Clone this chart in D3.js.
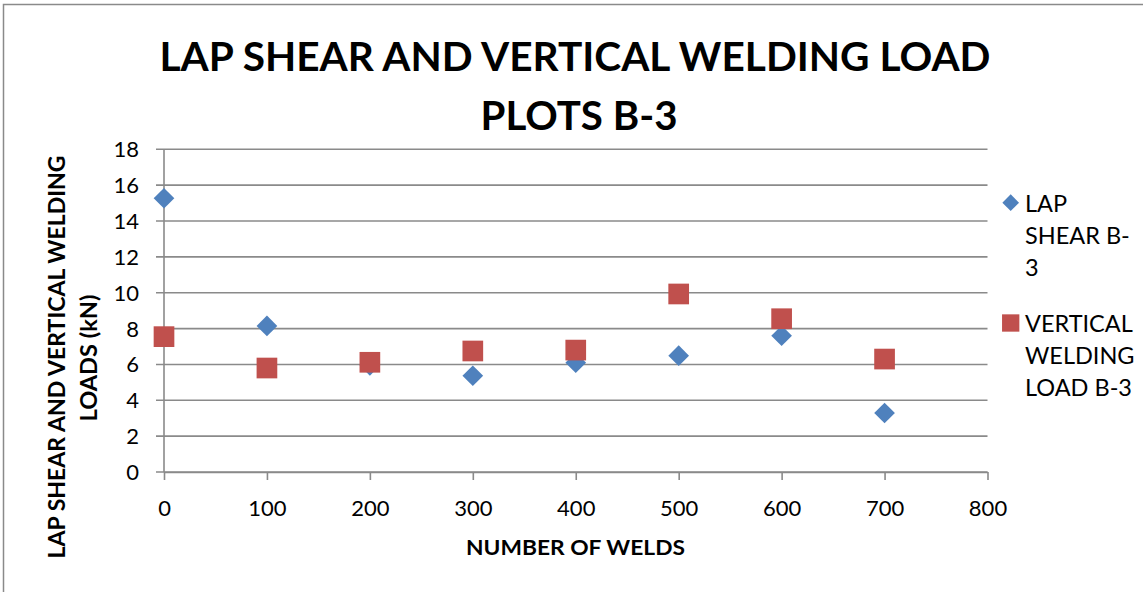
<!doctype html>
<html lang="en">
<head>
  <meta charset="utf-8">
  <script src="https://d3js.org/d3.v7.min.js"></script>
  <style>
    body { margin: 0; background: #fff; }
    text { font-family: Lato, "Open Sans", sans-serif; fill: #000; }
  </style>
</head>
<body>
  <div id="chart"></div>
  <script>
  // data
  var welds = [0, 100, 200, 300, 400, 500, 600, 700];
  var lapShear = [15.27, 8.15, 5.95, 5.37, 6.1, 6.49, 7.6, 3.29];
  var verticalLoad = [7.55, 5.8, 6.12, 6.75, 6.8, 9.93, 8.55, 6.3];
  var yTicks = [0, 2, 4, 6, 8, 10, 12, 14, 16, 18];
  var xTicks = [0, 100, 200, 300, 400, 500, 600, 700, 800];
  var seriesNames = [["LAP", "SHEAR B-", "3"], ["VERTICAL", "WELDING", "LOAD B-3"]];
  var titleLines = ["LAP SHEAR AND VERTICAL WELDING LOAD", "PLOTS B-3"];
  var yTitleLines = ["LAP SHEAR AND VERTICAL WELDING", "LOADS (kN)"];
  var xTitle = "NUMBER OF WELDS";

  var width = 1143, height = 592;
  var grey = "#8a8a8a";
  var blue = "#4f81bd", red = "#c0504d";

  var svg = d3.select("#chart")
      .append("svg")
      .attr("width", width)
      .attr("height", height);

  // outer chart border (only left and top are in frame)
  svg.append("rect")
     .attr("x", 3.5).attr("y", 4.5)
     .attr("width", width + 10).attr("height", height + 10)
     .attr("fill", "none")
     .attr("stroke", grey)
     .attr("stroke-width", 1.5);

  var x = d3.scaleLinear().domain([0, 800]).range([164, 987.5]);
  var y = d3.scaleLinear().domain([0, 18]).range([472, 149.3]);

  // gridlines + y ticks
  svg.append("g")
     .selectAll("line")
     .data(yTicks)
     .enter()
     .append("line")
     .attr("x1", 156).attr("x2", x(800))
     .attr("y1", function (d) { return y(d); })
     .attr("y2", function (d) { return y(d); })
     .attr("stroke", grey)
     .attr("stroke-width", 1.6);

  // y axis line
  svg.append("line")
     .attr("x1", x(0)).attr("x2", x(0))
     .attr("y1", y(18)).attr("y2", y(0))
     .attr("stroke", grey).attr("stroke-width", 1.6);

  // x axis
  var xAxis = d3.axisBottom(x).tickValues(xTicks).tickSize(8).tickSizeOuter(0).tickPadding(10);
  var gx = svg.append("g")
     .attr("transform", "translate(0," + y(0) + ")")
     .call(xAxis);
  gx.select(".domain").attr("stroke", grey).attr("stroke-width", 1.6);
  gx.selectAll(".tick line").attr("stroke", grey).attr("stroke-width", 1.6);
  gx.selectAll(".tick text")
    .attr("font-family", "Lato, sans-serif")
    .attr("font-size", 22)
    .attr("fill", "#000")
    .attr("dy", null)
    .attr("y", 43.5);

  // y tick labels
  svg.append("g")
     .selectAll("text")
     .data(yTicks)
     .enter()
     .append("text")
     .attr("x", 139)
     .attr("y", function (d) { return y(d) + 8; })
     .attr("text-anchor", "end")
     .attr("font-size", 22)
     .text(function (d) { return d; });

  // series 1: diamonds
  var diamond = d3.symbol().type(d3.symbolSquare).size(214);
  svg.append("g")
     .selectAll("path")
     .data(welds)
     .enter()
     .append("path")
     .attr("d", diamond)
     .attr("transform", function (d, i) {
       return "translate(" + x(d) + "," + y(lapShear[i]) + ") rotate(45)";
     })
     .attr("fill", blue);

  // series 2: squares
  var square = d3.symbol().type(d3.symbolSquare).size(428);
  svg.append("g")
     .selectAll("path")
     .data(welds)
     .enter()
     .append("path")
     .attr("d", square)
     .attr("transform", function (d, i) {
       return "translate(" + x(d) + "," + y(verticalLoad[i]) + ")";
     })
     .attr("fill", red);

  // title
  svg.append("text")
     .attr("x", 575).attr("y", 70.7)
     .attr("text-anchor", "middle")
     .attr("font-size", 40).attr("font-weight", "bold")
     .attr("textLength", 831).attr("lengthAdjust", "spacingAndGlyphs")
     .text(titleLines[0]);
  svg.append("text")
     .attr("x", 579).attr("y", 130)
     .attr("text-anchor", "middle")
     .attr("font-size", 40).attr("font-weight", "bold")
     .attr("textLength", 197).attr("lengthAdjust", "spacingAndGlyphs")
     .text(titleLines[1]);

  // y axis title
  var yt = svg.append("g").attr("transform", "translate(0,357) rotate(-90)");
  yt.append("text")
    .attr("x", 0).attr("y", 65)
    .attr("text-anchor", "middle")
    .attr("font-size", 23).attr("font-weight", "bold")
    .attr("textLength", 403).attr("lengthAdjust", "spacingAndGlyphs")
    .text(yTitleLines[0]);
  yt.append("text")
    .attr("x", -1).attr("y", 96.7)
    .attr("text-anchor", "middle")
    .attr("font-size", 23).attr("font-weight", "bold")
    .attr("textLength", 127).attr("lengthAdjust", "spacingAndGlyphs")
    .text(yTitleLines[1]);

  // x axis title
  svg.append("text")
     .attr("x", 575.5).attr("y", 555)
     .attr("text-anchor", "middle")
     .attr("font-size", 21).attr("font-weight", "bold")
     .attr("textLength", 219).attr("lengthAdjust", "spacingAndGlyphs")
     .text(xTitle);

  // legend
  var legend = svg.append("g");
  legend.append("path")
        .attr("d", d3.symbol().type(d3.symbolSquare).size(139))
        .attr("transform", "translate(1010.7,202.7) rotate(45)")
        .attr("fill", blue);
  legend.append("path")
        .attr("d", d3.symbol().type(d3.symbolSquare).size(300))
        .attr("transform", "translate(1010.7,323)")
        .attr("fill", red);
  var legendY = [211.7, 331.7];
  seriesNames.forEach(function (lines, s) {
    legend.selectAll(null)
          .data(lines)
          .enter()
          .append("text")
          .attr("x", 1025)
          .attr("y", function (d, i) { return legendY[s] + i * 32.2; })
          .attr("font-size", 23.5)
          .text(function (d) { return d; });
  });
  </script>
</body>
</html>
